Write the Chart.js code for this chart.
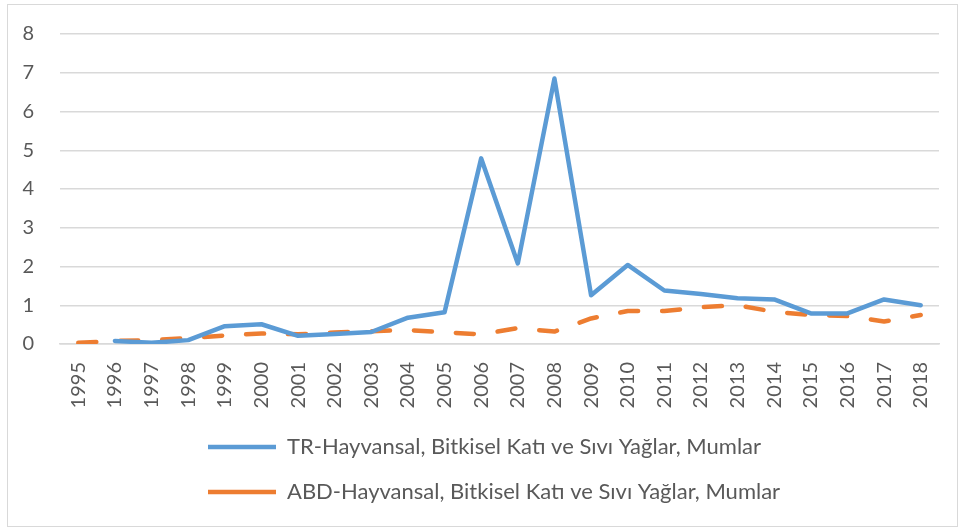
<!DOCTYPE html>
<html>
<head>
<meta charset="utf-8">
<script src="https://cdn.jsdelivr.net/npm/chart.js@4/dist/chart.umd.min.js"></script>
<style>
body{margin:0;background:#fff;}
#box{position:absolute;left:7px;top:4px;width:949px;height:521px;border:1px solid #d9d9d9;}
</style>
</head>
<body>
<div id="box"><canvas id="myChart" width="949" height="521"></canvas></div>
<script>
// years on the x axis
let years = ["1995","1996","1997","1998","1999","2000","2001","2002","2003","2004","2005","2006",
             "2007","2008","2009","2010","2011","2012","2013","2014","2015","2016","2017","2018"];

// TR series (no value for 1995)
let trValues = [null,0.08,0.03,0.10,0.46,0.51,0.21,0.26,0.31,0.68,0.82,4.79,
                2.08,6.85,1.26,2.04,1.38,1.29,1.18,1.15,0.79,0.79,1.15,1.00];

// ABD series
let abdValues = [0.03,0.08,0.10,0.15,0.22,0.27,0.25,0.30,0.33,0.36,0.30,0.25,
                 0.41,0.32,0.66,0.85,0.85,0.95,1.00,0.83,0.75,0.72,0.58,0.75];

let trLabel = "TR-Hayvansal, Bitkisel Katı ve Sıvı Yağlar, Mumlar";
let abdLabel = "ABD-Hayvansal, Bitkisel Katı ve Sıvı Yağlar, Mumlar";

let yMin = 0, yMax = 8, yStep = 1;

let textColor = "#595959";
let fontName = "Lato, 'Liberation Sans', sans-serif";

// legend rows start at the same x, like the original (left aligned block)
let legendShift = {
    id: "legendShift",
    afterLayout: function(chart){
        chart.legend.left = 177;
    }
};

new Chart("myChart", {
    type: "line",
    data: {
        labels: years,
        datasets: [{
            label: trLabel,
            data: trValues,
            borderColor: "#5b9bd5",
            backgroundColor: "#5b9bd5",
            borderWidth: 4.5,
            borderCapStyle: "round",
            borderJoinStyle: "round",
            pointRadius: 0,
            pointStyle: "line",
            tension: 0
        },{
            label: abdLabel,
            data: abdValues,
            borderColor: "#ed7d31",
            backgroundColor: "#ed7d31",
            borderWidth: 4.5,
            borderDash: [18, 24],
            borderCapStyle: "round",
            borderJoinStyle: "round",
            pointRadius: 0,
            pointStyle: "line",
            tension: 0
        }]
    },
    plugins: [legendShift],
    options: {
        responsive: false,
        animation: false,
        layout: {padding: {left: 14, right: 18, top: 29, bottom: 13}},
        plugins: {
            tooltip: {enabled: false},
            legend: {
                position: "bottom",
                align: "start",
                labels: {
                    usePointStyle: true,
                    pointStyleWidth: 68,
                    padding: 23,
                    color: textColor,
                    font: {family: fontName, size: 22}
                }
            }
        },
        scales: {
            x: {
                offset: true,
                grid: {display: false, drawTicks: false},
                border: {display: true, color: "#d9d9d9", width: 1.5},
                ticks: {
                    minRotation: 90, maxRotation: 90, autoSkip: false, padding: 18,
                    color: textColor,
                    font: {family: fontName, size: 20}
                },
                // fixed height for the year labels + gap above legend, no side padding
                afterFit: function(scale){
                    scale.paddingLeft = 0;
                    scale.paddingRight = 0;
                    scale.height = 69;
                }
            },
            y: {
                min: yMin, max: yMax,
                grid: {color: "#d9d9d9", lineWidth: 1.5, drawTicks: false},
                border: {display: false},
                ticks: {
                    stepSize: yStep, padding: 26,
                    color: textColor,
                    font: {family: fontName, size: 20}
                },
                // chart.js counts tick padding twice, keep the axis narrow
                afterFit: function(scale){
                    scale.width = 38;
                    scale.paddingTop = 0;
                    scale.paddingBottom = 0;
                }
            }
        }
    }
});
</script>
</body>
</html>
